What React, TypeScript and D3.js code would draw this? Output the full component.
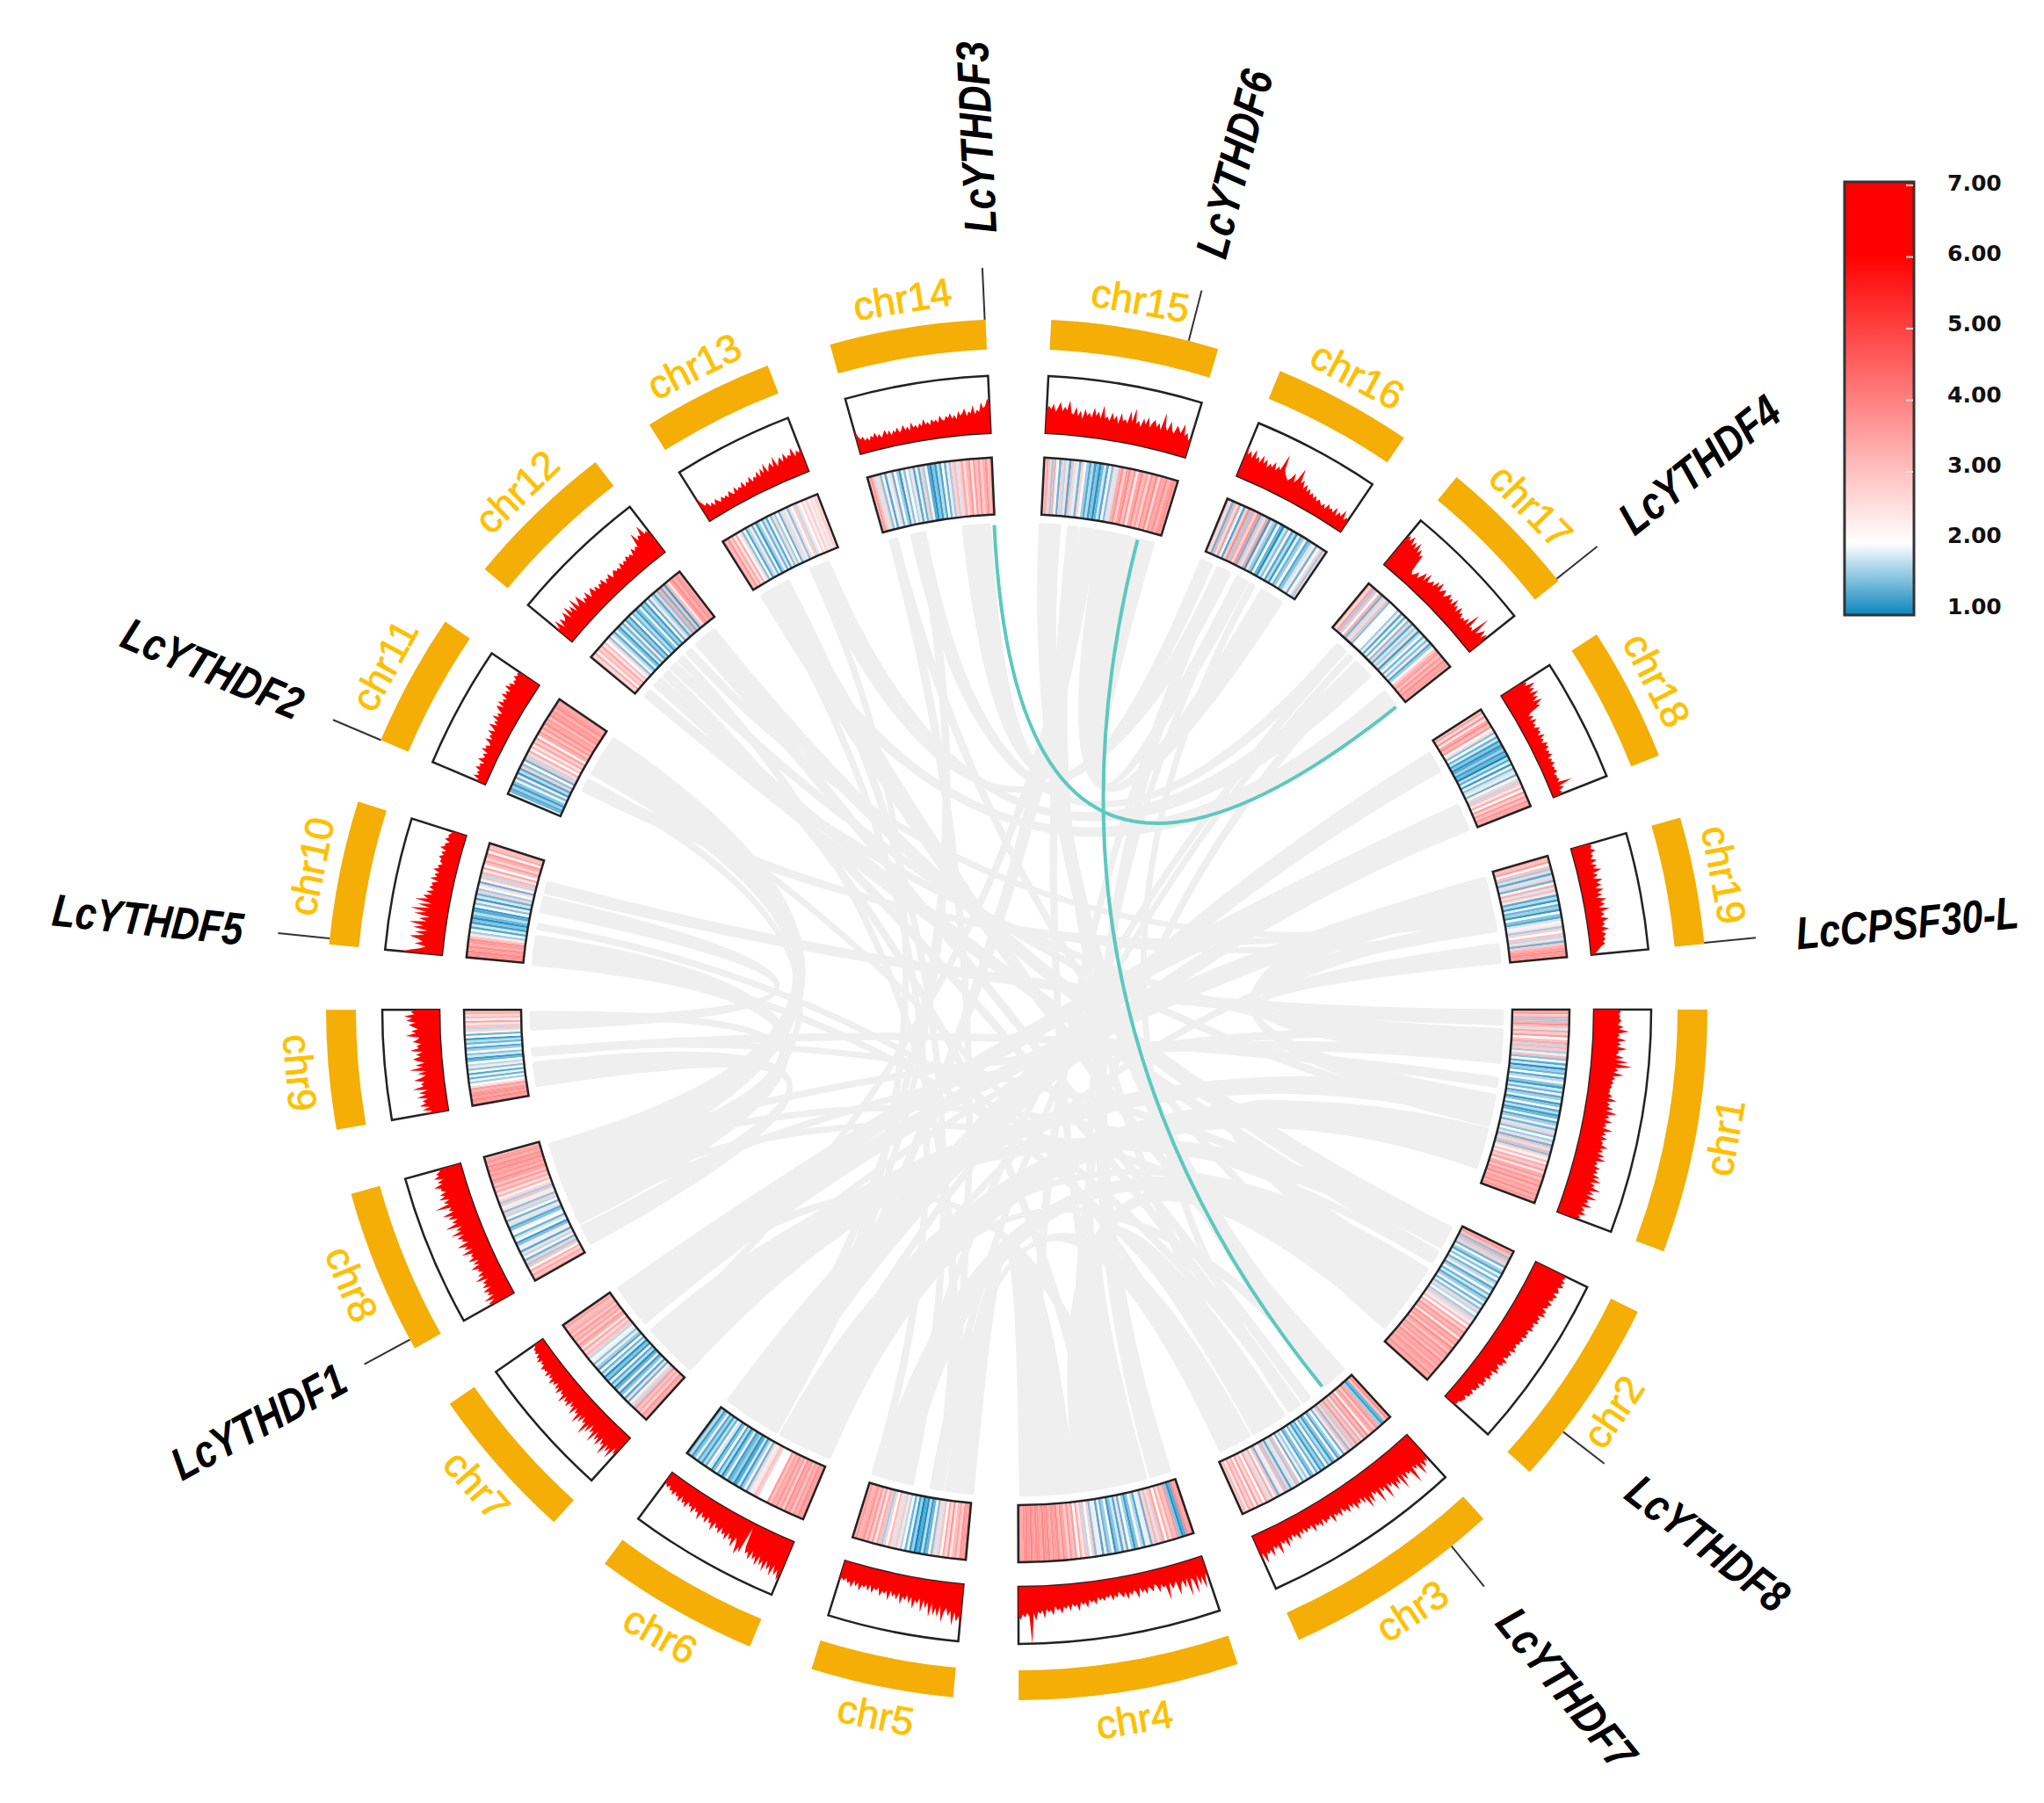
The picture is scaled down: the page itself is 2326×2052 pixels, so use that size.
import { useEffect, useRef } from "react";
import * as d3 from "d3";

const width = 2326;
const height = 2052;

// chromosome sizes, read as arc lengths off the picture
const chrNames = ["chr1", "chr2", "chr3", "chr4", "chr5", "chr6", "chr7", "chr8", "chr9", "chr10", "chr11", "chr12", "chr13", "chr14", "chr15", "chr16", "chr17", "chr18", "chr19"];
const chrSizes = [20.5, 16.1, 18.4, 18.5, 12, 13.9, 13.1, 13.9, 10, 12.1, 11.2, 12.8, 11, 13.1, 14.1, 11.7, 12.1, 11.3, 10.7];

// gene density histogram, per chromosome, clockwise (percent of track height)
const histValues = [
  [44,47,43,46,44,48,45,42,52,44,62,43,46,41,58,43,49,42,60,44,46,41,56,40,64,43,72,42,48,40,58,39,44,38,42,37,40,36,38,35,43,36,52,35,41,37,48,36,56,38,44,36,50,37,42,35,54,38,44,36,48,37,42,40,52,38,46,36,50,38,54,37,42,36,48,40,46,38,52,40,56,38,48,42,60,40,50,38,58,40,46,38,54,36,44,38,48,35,42,30],
  [52,60,55,62,56,64,54,58,60,52,62,55,58,50,60,54,56,48,58,52,60,47,54,50,56,46,52,48,54,44,50,46,52,42,50,44,48,40,46,42,50,38,46,42,44,36,48,40,44,34,42,38,46,32,40,36,42,30,38,34,40,28,36,32,34,26,34,30,32,24,30,28,26,22,24,18],
  [40,58,52,64,50,74,48,56,46,78,50,54,46,60,44,72,42,58,48,64,44,52,40,70,42,50,38,68,40,46,36,56,40,62,36,48,34,44,38,50,34,42,32,46,36,40,30,44,34,38,32,48,30,36,34,40,28,42,32,36,30,44,28,34,30,38,26,36,28,42,30,34,26,38,28,46,30,36,28,52,32,38,30,48,34,40,36,54,34,44],
  [40,30,55,32,48,28,60,34,30,62,28,44,30,36,54,28,34,40,26,58,30,34,26,40,28,24,36,30,26,38,28,34,24,42,30,26,34,28,40,26,36,30,24,34,28,38,26,32,28,36,30,34,28,40,32,36,30,44,34,38,32,48,36,40,34,46,36,42,38,50,40,44,36,52,42,46,40,56,42,48,44,60,46,100,52,46,54,48,58,50],
  [72,56,66,50,74,48,58,44,52,70,42,62,46,60,40,64,38,50,36,58,34,44,38,54,34,46,32,42,36,50,30,44,34,40,30,48,32,38,34,44,30,36,32,42,28,40,30,36,32,44,30,38,28,42,32,36,28,34,30,36],
  [60,74,56,68,50,72,54,64,48,70,52,62,46,66,50,58,44,62,48,54,42,8,58,48,64,44,36,56,40,46,34,50,38,44,32,46,36,40,30,48,34,38,28,42,32,36,26,44,30,34,26,40,28,32,24,38,28,34,22,36,26,30,22,32,24,28,20,26,22,18],
  [28,42,30,56,36,48,34,60,38,44,32,52,36,46,30,56,34,42,28,48,32,58,34,40,28,44,30,52,32,38,28,46,30,36,26,42,32,38,28,46,30,34,26,40,28,36,24,34,28,38,26,32,24,36,26,30,28,34,24,28,22,32,24,28,20,26,22,24,18,20],
  [36,48,34,52,32,42,36,46,30,44,34,40,28,50,32,42,30,38,34,48,30,40,28,46,34,38,32,52,30,44,36,54,32,42,38,48,34,56,36,44,32,60,38,46,34,50,40,58,36,44,38,66,40,48,36,54,42,50,38,46,44,56,40,48,36,52,42,46,38,40],
  [38,28,44,30,48,36,42,32,50,34,46,30,56,36,40,34,52,38,30,44,28,58,34,46,30,42,50,36,44,32,54,38,42,34,48,40,36,60,42,50,38,46,54,42,58,48,62,44,50,40],
  [70,58,40,30,50,36,44,60,34,52,30,56,38,64,34,48,30,58,36,66,32,54,30,60,38,48,32,44,30,40,34,38,26,42,30,36,28,40,30,34,26,32,30,36,28,34,26,38,30,32,24,34,28,30,26,24],
  [18,14,26,16,22,18,28,20,24,16,30,22,20,26,18,32,24,28,20,24,34,22,30,26,36,24,30,40,26,34,28,42,30,36,28,38,44,32,46,36,40,34,48,38,44,36,50,40,46,36,42,38,46,40,44,38],
  [40,30,46,26,42,32,36,46,28,50,32,44,28,52,30,38,48,26,36,30,42,26,34,40,28,36,26,34,30,38,24,32,28,36,24,30,34,28,32,26,36,28,34,30,38,32,36,30,42,34,40,36,62,44,52,48,66,46,50,40],
  [48,34,26,30,20,26,18,28,22,18,26,20,24,18,28,22,18,30,20,26,22,32,20,28,24,34,22,30,26,36,24,38,28,44,26,34,40,30,48,28,36,42,32,46,34,40,36,50,32,42,36,44],
  [42,30,24,28,20,24,18,26,22,30,20,26,18,24,30,20,28,18,26,22,30,20,24,32,22,28,20,34,24,28,22,30,24,36,26,30,24,34,28,32,26,38,30,28,36,32,40,30,36,28,42,34,38,46,32,40,36,50,34,42,38,54,44,48,60,52],
  [40,48,42,52,38,46,56,40,48,42,60,38,36,50,34,44,30,48,36,42,34,52,38,46,34,58,36,40,32,48,36,44,30,50,36,40,34,56,38,62,36,42,32,48,38,52,34,44,50,38,46,34,66,42,36,54,40,34,50,44,38,56,36,42,30,36],
  [58,42,50,38,56,40,46,36,52,38,48,34,44,38,50,36,46,40,72,44,38,34,30,36,48,32,40,62,36,44,30,40,28,36,26,32,24,30,22,28,24,20,26,18,30,22,26,20,32,18,28,22,36,20,26,22],
  [58,68,60,72,56,66,54,70,52,62,50,56,24,18,22,30,20,28,38,24,42,26,30,36,28,42,32,46,30,36,40,28,34,42,32,38,28,44,30,36,26,40,28,34,24,30,26,36,24,52,26,30,24,60,28,34,44,30,42,26],
  [38,50,44,62,48,56,44,60,46,54,42,58,44,50,28,22,30,20,32,22,26,20,30,24,28,20,32,22,26,20,30,24,28,20,26,22,28,18,24,20,26,18,22,20,24,16,20,18,22,16,42,16,24,14,18,10],
  [30,36,32,40,30,34,28,38,26,36,28,42,26,34,24,40,28,36,24,38,26,34,22,40,28,36,24,42,26,32,24,38,26,30,24,36,22,30,24,28,22,26,18,14,10,5],
];

// expression heat strip, per chromosome, clockwise (legend value x 10)
const heatValues = [
  [33,36,28,34,16,33,37,30,18,34,28,36,20,30,34,17,32,29,16,24,31,15,22,13,18,11,16,14,20,13,17,22,15,12,18,14,23,13,16,19,12,15,21,13,17,12,14,19,13,16,24,14,18,28,15,20,16,26,14,30,18,32,15,27,22,31,19,33,29,35,24,34,36,30,37,33,38,32,36,34,38,33,37,35],
  [34,36,30,15,33,17,28,14,22,16,13,19,15,21,14,17,24,13,16,20,14,18,13,16,22,14,19,15,27,17,21,16,29,18,24,31,20,34,28,36,32,35,24,37,33,36,29,38,34,30,37,33,36,31,38,34,36,32,37,35,33,38,34,36],
  [35,38,30,14,12,16,34,37,28,36,33,22,38,31,36,18,34,29,37,17,32,27,15,30,24,14,20,16,13,22,15,12,17,14,20,13,16,12,18,14,21,15,13,19,16,24,14,20,31,16,26,18,13,28,16,32,19,25,14,30,22,33,18,28,34,20,31,26,35,22,33,28,34,24,31,29],
  [37,34,38,13,11,15,36,30,34,26,33,20,34,30,18,32,27,14,24,19,13,17,22,15,12,16,20,14,25,13,18,15,12,21,16,14,23,13,19,24,15,28,21,17,30,24,33,20,35,30,36,28,34,37,31,38,35,37,33,38,36,39,34,37,38,35,39,36,38,37,34,38],
  [38,35,37,28,34,31,24,36,26,33,21,30,18,27,15,22,14,12,17,11,13,10,16,12,19,14,21,17,24,29,18,26,31,20,28,16,30,33,24,35,28,36,31,37,34,32,36,33],
  [37,35,38,33,36,30,37,34,38,28,36,32,37,33,35,30,36,20,20,20,20,28,30,25,19,27,14,22,16,12,18,13,11,16,14,12,19,15,11,17,13,20,15,12,18,22,14,17,12,16,13,19,15,12,17,14],
  [36,33,37,28,34,30,36,17,28,22,14,26,13,19,15,12,24,14,11,17,13,20,12,15,11,18,14,21,13,16,24,15,19,22,17,28,32,26,34,24,33,36,28,35,31,36,29,34,32,30,35,33],
  [36,30,34,27,33,20,30,16,28,14,22,17,26,13,19,24,15,12,21,18,14,20,23,15,13,18,25,14,21,17,28,15,24,19,30,16,27,22,32,25,34,29,36,30,35,38,33,37,34,38,36,38,33,37,35,32],
  [38,36,39,35,38,37,33,36,26,20,16,22,14,19,13,21,15,24,17,20,14,12,18,15,21,16,13,19,14,17,12,20,14,22,28,17,30,24,34,19,31,27,33,29],
  [38,37,39,35,38,33,36,37,30,24,16,20,13,18,12,15,11,14,17,13,12,20,15,24,12,18,14,28,16,21,26,14,22,30,17,32,24,34,20,30,35,27,33,36,22,34,30,33],
  [20,14,13,16,12,15,19,14,24,12,17,13,28,15,21,14,30,17,26,33,20,31,24,34,28,35,22,33,36,30,37,32,38,34,36,31,38,35,37,33,38,36,34,37],
  [30,26,33,22,31,28,34,24,30,20,26,15,22,17,13,19,15,12,18,14,24,13,16,12,20,14,17,12,15,19,13,16,12,21,14,24,17,13,28,15,33,14,30,12,31,24,35,38,33,37,36,34],
  [35,31,37,28,34,24,33,20,26,15,21,13,17,24,14,19,12,16,23,14,18,13,22,15,26,16,20,14,27,18,24,15,26,21,28,17,25,20,27,22,28,19,26,24,28,25],
  [33,36,30,18,27,15,23,13,19,26,14,21,16,12,24,15,20,17,25,13,19,14,28,16,22,13,11,15,12,17,13,20,14,24,16,27,31,18,28,34,26,32,36,24,35,30,36,28,33,37,30,35],
  [31,34,28,16,33,20,14,28,17,25,13,30,18,24,14,27,21,16,13,17,12,15,11,14,18,13,22,15,26,18,33,37,28,35,38,30,36,24,34,38,31,35,28,37,33,38,27,36,34,38,32,36,38,35],
  [30,26,14,33,18,36,20,13,28,38,16,34,27,37,14,30,18,35,12,25,16,13,20,14,11,18,15,22,13,17,12,19,14,16,21,13,15,18,24,14,20,27,16,28],
  [32,27,35,16,30,20,33,14,28,18,31,15,20,20,20,20,16,24,13,19,14,21,15,28,13,18,16,26,12,17,22,14,19,15,24,13,16,20,28,33,36,30,37,32,38,34,36,33],
  [30,35,26,37,24,34,38,31,36,20,26,15,21,14,18,12,15,11,13,16,12,14,10,17,13,19,12,22,15,18,24,14,20,28,17,30,24,33,20,35,28,36,31,37,34,36],
  [34,30,35,20,30,16,27,13,18,28,14,22,33,18,31,24,13,17,12,19,14,16,12,20,15,13,18,22,24,16,28,20,30,17,26,14,29,33,36,38,36,37],
];

// collinear blocks: chrA, from, to, chrB, from, to (fractions along the chromosome)
const greyLinks = [
  [11, 0.55, 0.97, 8, 0.62, 0.95], [11, 0.42, 0.46, 8, 0.25, 0.32], [10, 0.71, 0.8, 1, 0.01, 0.08],
  [10, 0.52, 0.65, 9, 0.78, 0.88], [10, 0, 0.26, 8, 0.3, 0.6], [9, 0.11, 0.36, 8, 0.05, 0.2],
  [9, 0.9, 0.96, 8, 0.6, 0.66], [7, 0.6, 0.8, 19, 0.05, 0.2], [7, 0.8, 0.98, 18, 0.72, 0.85],
  [7, 0.02, 0.3, 1, 0.5, 0.62], [7, 0.35, 0.5, 2, 0.05, 0.2], [6, 0.6, 0.98, 18, 0.85, 0.98],
  [6, 0, 0.45, 1, 0.7, 0.92], [6, 0.5, 0.56, 13, 0.65, 0.68], [5, 0.65, 0.95, 2, 0.45, 0.65],
  [5, 0, 0.25, 4, 0.64, 0.98], [4, 0.42, 0.62, 2, 0.65, 0.9], [4, 0.18, 0.4, 3, 0.5, 0.72],
  [3, 0.05, 0.18, 15, 0, 0.15], [4, 0.02, 0.14, 16, 0.2, 0.25], [3, 0.76, 0.96, 5, 0.3, 0.36],
  [3, 0.02, 0.05, 13, 0.05, 0.3], [3, 0.3, 0.34, 12, 0.72, 0.8], [3, 0.38, 0.42, 12, 0.18, 0.25],
  [2, 0.25, 0.3, 12, 0.05, 0.1], [2, 0.05, 0.2, 12, 0.8, 0.92], [13, 0.65, 0.72, 16, 0.18, 0.3],
  [13, 0.76, 0.84, 17, 0.4, 0.58], [14, 0.72, 0.95, 16, 0, 0.1], [14, 0.25, 0.36, 17, 0.15, 0.22],
  [14, 0.05, 0.1, 5, 0.3, 0.34], [15, 0.5, 0.76, 16, 0.68, 0.9], [15, 0.8, 0.95, 16, 0.4, 0.5],
  [15, 0.34, 0.47, 6, 0.5, 0.56], [15, 0.24, 0.29, 4, 0.3, 0.33], [17, 0.8, 0.98, 13, 0.05, 0.15],
  [18, 0.1, 0.3, 6, 0.6, 0.8], [18, 0.72, 0.98, 7, 0.8, 0.98], [19, 0.05, 0.38, 1, 0.5, 0.62],
  [19, 0.5, 0.62, 1, 0.12, 0.2], [19, 0.8, 0.98, 1, 0.2, 0.3], [1, 0.64, 0.67, 12, 0.4, 0.45],
  [1, 0.8, 0.92, 2, 0.45, 0.6], [12, 0.5, 0.54, 5, 0.3, 0.36], [14, 0.3, 0.33, 6, 0.52, 0.55],
  [16, 0.4, 0.43, 4, 0.3, 0.33], [17, 0.3, 0.33, 5, 0.36, 0.4], [12, 0.6, 0.64, 19, 0.45, 0.48],
  [11, 0.35, 0.38, 19, 0.42, 0.45], [9, 0.47, 0.53, 1, 0.4, 0.44], [10, 0.35, 0.38, 3, 0.4, 0.43],
  [8, 0.7, 0.73, 2, 0.3, 0.33], [16, 0.55, 0.58, 3, 0.42, 0.45],
  // thinner blocks crossing the disc off centre
  [12, 0.05, 0.1, 1, 0.25, 0.28], [12, 0.18, 0.25, 2, 0.25, 0.3], [12, 0.3, 0.35, 4, 0.44, 0.48],
  [13, 0.3, 0.36, 5, 0.6, 0.64], [13, 0.1, 0.14, 5, 0.95, 0.99], [14, 0.05, 0.1, 2, 0.88, 0.92],
  [14, 0.3, 0.35, 6, 0.7, 0.74], [11, 0.4, 0.44, 19, 0.6, 0.63], [15, 0.4, 0.45, 7, 0.4, 0.43],
  [15, 0.26, 0.3, 3, 0.6, 0.64], [16, 0.2, 0.24, 4, 0.85, 0.9], [17, 0.2, 0.24, 5, 0.8, 0.84],
  [17, 0.45, 0.5, 4, 0.5, 0.54], [18, 0.2, 0.25, 6, 0.3, 0.34], [19, 0.2, 0.25, 7, 0.3, 0.33],
  [19, 0.5, 0.55, 6, 0.2, 0.24], [1, 0.25, 0.3, 8, 0.8, 0.83], [1, 0.12, 0.16, 8, 0.3, 0.33],
  [2, 0.7, 0.74, 8, 0.45, 0.48], [2, 0.15, 0.2, 9, 0.5, 0.53], [3, 0.6, 0.64, 10, 0.1, 0.14],
  [3, 0.85, 0.88, 11, 0.7, 0.73], [1, 0.6, 0.63, 7, 0.4, 0.44], [2, 0.4, 0.44, 6, 0.4, 0.44],
  [3, 0.1, 0.14, 6, 0.2, 0.24], [4, 0.3, 0.35, 7, 0.7, 0.74],
];

// the two highlighted pairs: gene, gene
const tealLinks = [
  ["LcYTHDF3", "LcYTHDF4"],
  ["LcYTHDF6", "LcYTHDF7"],
];

// gene labels: chromosome number and fraction along it
const genes = [
  { name: "LcYTHDF3", chr: 14, pos: 0.995 },
  { name: "LcYTHDF6", chr: 15, pos: 0.82 },
  { name: "LcYTHDF4", chr: 17, pos: 0.98 },
  { name: "LcCPSF30-L", chr: 19, pos: 0.99 },
  { name: "LcYTHDF8", chr: 2, pos: 0.73 },
  { name: "LcYTHDF7", chr: 3, pos: 0.19 },
  { name: "LcYTHDF1", chr: 8, pos: 0.06 },
  { name: "LcYTHDF2", chr: 11, pos: 0.0 },
  { name: "LcYTHDF5", chr: 10, pos: 0.04 },
];

const legendTicks = [1, 2, 3, 4, 5, 6, 7];

export default function App() {
  const svgRef = useRef<SVGSVGElement>(null);

  useEffect(() => {
    if (!svgRef.current) return;
    const svg = d3.select(svgRef.current);
    svg.selectAll("*").remove();

    const cx = 1157;
    const cy = 1149;
    const g = svg.append("g").attr("transform", `translate(${cx}, ${cy})`);

    const rad = Math.PI / 180;
    const band = { inner: 752, outer: 786 };
    const hist = { inner: 657, outer: 722 };
    const heat = { inner: 564, outer: 629 };
    const linkR = 552;

    const color = d3
      .scaleLinear<string>()
      .domain([1, 2, 6, 7])
      .range(["#0a86bd", "#ffffff", "#ff0000", "#ff0000"]);

    // layout of the chromosomes, clockwise from 3 o'clock. d3.pie counts the pad
    // inside each slice, so take it off the end to get the real span
    const arcs = d3
      .pie<number>()
      .sort(null)
      .value((d) => d)
      .startAngle(90 * rad)
      .endAngle(450 * rad)
      .padAngle(5.45 * rad)(chrSizes)
      .map((a) => ({ startAngle: a.startAngle, endAngle: a.endAngle - a.padAngle }));

    const posAngle = (chr: number, f: number) => {
      const a = arcs[chr - 1];
      return a.startAngle + (a.endAngle - a.startAngle) * f;
    };

    // grey links, the stroke keeps the narrow ones from pinching in the middle
    const ribbon = d3.ribbon<any, any>().radius(linkR);
    g.append("g")
      .selectAll("path")
      .data(greyLinks)
      .enter()
      .append("path")
      .attr("fill", "#efefef")
      .attr("stroke", "#efefef")
      .attr("stroke-width", 5)
      .attr("stroke-linejoin", "round")
      .attr("d", (d) =>
        ribbon({
          source: { startAngle: posAngle(d[0], d[1]), endAngle: posAngle(d[0], d[2]) },
          target: { startAngle: posAngle(d[3], d[4]), endAngle: posAngle(d[3], d[5]) },
        }) as unknown as string
      );

    // teal links
    const geneAngle = (name: string) => {
      const gene = genes.find((x) => x.name === name)!;
      return posAngle(gene.chr, gene.pos);
    };
    const tealPath = (pair: string[]) => {
      const p = d3.path();
      const a = geneAngle(pair[0]);
      const b = geneAngle(pair[1]);
      p.moveTo(linkR * Math.sin(a), -linkR * Math.cos(a));
      p.quadraticCurveTo(0, 0, linkR * Math.sin(b), -linkR * Math.cos(b));
      return p.toString();
    };
    g.append("g")
      .selectAll("path")
      .data(tealLinks)
      .enter()
      .append("path")
      .attr("fill", "none")
      .attr("stroke", "#5cc9bd")
      .attr("stroke-width", 4)
      .attr("d", tealPath);

    const arc = d3.arc<any>();

    arcs.forEach((a, i) => {
      const chrG = g.append("g").attr("class", chrNames[i]);
      const span = { startAngle: a.startAngle, endAngle: a.endAngle };

      // outer band
      chrG
        .append("path")
        .attr("fill", "#f4ae05")
        .attr("d", arc({ ...span, innerRadius: band.inner, outerRadius: band.outer }));

      // histogram track, the red sits over the box line
      chrG
        .append("path")
        .attr("fill", "none")
        .attr("stroke", "#222")
        .attr("stroke-width", 2.5)
        .attr("d", arc({ ...span, innerRadius: hist.inner, outerRadius: hist.outer }));
      const vals = histValues[i];
      const hx = d3.scaleLinear().domain([0, vals.length - 1]).range([a.startAngle, a.endAngle]);
      const hy = d3.scaleLinear().domain([0, 100]).range([hist.inner, hist.outer]);
      const area = d3
        .areaRadial<number>()
        .angle((_, k) => hx(k))
        .innerRadius(hist.inner)
        .outerRadius((d) => hy(d))
        .curve(d3.curveLinear);
      chrG.append("path").attr("fill", "#ff0000").attr("d", area(vals));

      // heat strip
      const heats = heatValues[i];
      const tx = d3.scaleBand<number>().domain(d3.range(heats.length)).range([a.startAngle, a.endAngle]);
      chrG
        .append("g")
        .selectAll("path")
        .data(heats)
        .enter()
        .append("path")
        .attr("fill", (d) => color(d / 10))
        .attr("d", (_, k) =>
          arc({
            startAngle: tx(k)!,
            endAngle: tx(k)! + tx.bandwidth(),
            innerRadius: heat.inner,
            outerRadius: heat.outer,
          })
        );
      chrG
        .append("path")
        .attr("fill", "none")
        .attr("stroke", "#222")
        .attr("stroke-width", 2.5)
        .attr("d", arc({ ...span, innerRadius: heat.inner, outerRadius: heat.outer }));

      // chromosome label
      const mid = (a.startAngle + a.endAngle) / 2;
      const norm = (mid / rad) % 360;
      const rot = norm > 90 && norm < 270 ? norm - 180 : norm;
      const labelR = 819;
      chrG
        .append("text")
        .attr("transform", `translate(${labelR * Math.sin(mid)}, ${-labelR * Math.cos(mid)}) rotate(${rot})`)
        .attr("text-anchor", "middle")
        .attr("dominant-baseline", "central")
        .attr("font-family", "Liberation Sans")
        .attr("font-size", 45)
        .attr("fill", "#ffc000")
        .attr("stroke", "#ffc000")
        .attr("stroke-width", 0.8)
        .text(chrNames[i]);
    });

    // gene ticks and labels
    genes.forEach((gene) => {
      const t = posAngle(gene.chr, gene.pos);
      g.append("line")
        .attr("x1", band.outer * Math.sin(t))
        .attr("y1", -band.outer * Math.cos(t))
        .attr("x2", 845 * Math.sin(t))
        .attr("y2", -845 * Math.cos(t))
        .attr("stroke", "#333")
        .attr("stroke-width", 2);
      const norm = (t / rad) % 360;
      // the label near the top still reads upwards, like its neighbour on the other side
      const rot = norm < 180 ? norm - 90 : norm > 330 ? norm - 450 : norm - 270;
      const r = gene.name === "LcCPSF30-L" ? 1018 : gene.name === "LcYTHDF1" ? 982 : 994;
      g.append("text")
        .attr("transform", `translate(${r * Math.sin(t)}, ${-r * Math.cos(t)}) rotate(${rot}) scale(0.83, 1)`)
        .attr("text-anchor", "middle")
        .attr("dominant-baseline", "central")
        .attr("font-family", "Liberation Sans")
        .attr("font-weight", "bold")
        .attr("font-style", "italic")
        .attr("font-size", 52)
        .attr("fill", "#000")
        .text(gene.name);
    });

    // legend: the box and its white ticks run on one scale, the printed labels sit a little tighter
    const legendX = 2099;
    const legendW = 79;
    const legendTop = 207;
    const legendBottom = 700;
    const ly = d3.scaleLinear().domain([1, 7]).range([legendBottom, legendTop + 4]);
    const labelY = d3.scaleLinear().domain([1, 7]).range([690, 208]);
    const defs = svg.append("defs");
    const grad = defs
      .append("linearGradient")
      .attr("id", "legendGrad")
      .attr("x1", 0)
      .attr("x2", 0)
      .attr("y1", 1)
      .attr("y2", 0);
    [1, 1.2, 2, 6, 7].forEach((v) => {
      grad
        .append("stop")
        .attr("offset", (v - 1) / 6)
        .attr("stop-color", color(v));
    });
    const legend = svg.append("g").attr("class", "legend");
    legend
      .append("rect")
      .attr("x", legendX)
      .attr("y", legendTop)
      .attr("width", legendW)
      .attr("height", legendBottom - legendTop)
      .attr("fill", "url(#legendGrad)")
      .attr("stroke", "#333")
      .attr("stroke-width", 3);
    legendTicks.forEach((v) => {
      if (v > 2) {
        legend
          .append("line")
          .attr("x1", legendX + legendW - 9)
          .attr("x2", legendX + legendW - 1)
          .attr("y1", ly(v))
          .attr("y2", ly(v))
          .attr("stroke", "#ffd9d0")
          .attr("stroke-width", 2);
      }
      legend
        .append("text")
        .attr("x", 2216)
        .attr("y", labelY(v))
        .attr("dominant-baseline", "central")
        .attr("font-family", "DejaVu Sans")
        .attr("font-weight", "bold")
        .attr("font-size", 25)
        .attr("fill", "#111")
        .text(v.toFixed(2));
    });
  }, []);

  return (
    <svg
      ref={svgRef}
      width={width}
      height={height}
      viewBox={`0 0 ${width} ${height}`}
      style={{ position: "absolute", left: 0, top: 0, background: "#fff" }}
    />
  );
}
